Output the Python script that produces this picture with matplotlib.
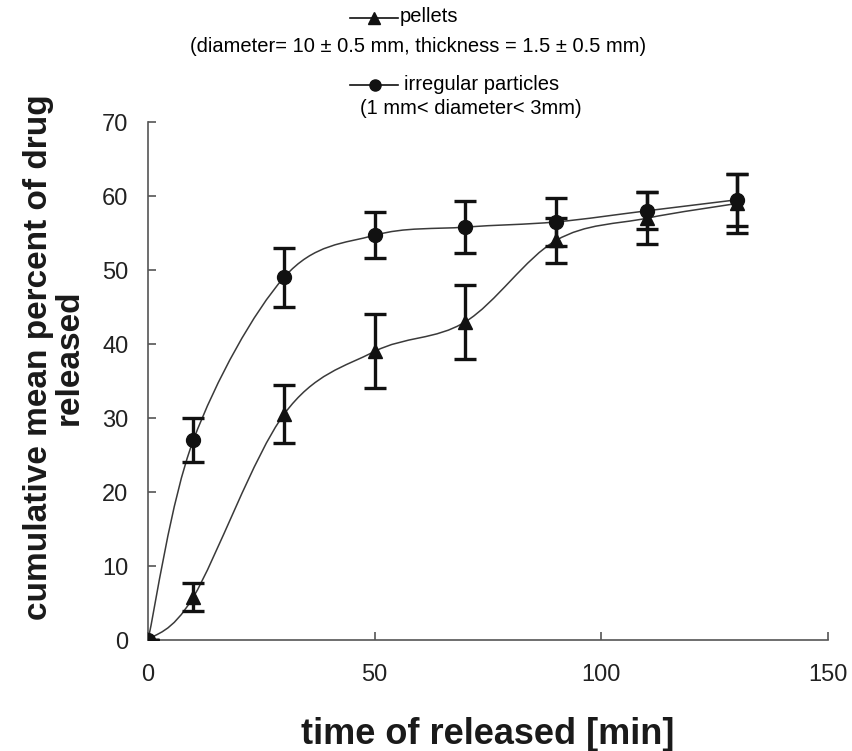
import matplotlib
matplotlib.use('Agg')
import matplotlib.pyplot as plt
from matplotlib.path import Path
from matplotlib.patches import PathPatch
from matplotlib.lines import Line2D

plt.rcParams['font.family'] = ['Liberation Sans', 'DejaVu Sans']

# time points [min]
time = [0, 10, 30, 50, 70, 90, 110, 130]

# pellets (triangles)
pellets = [0, 5.8, 30.5, 39.0, 43.0, 54.0, 57.0, 59.0]
pellets_err = [0, 1.9, 3.9, 5.0, 5.0, 3.0, 3.5, 4.0]

# irregular particles (circles)
particles = [0, 27.0, 49.0, 54.7, 55.8, 56.5, 58.0, 59.5]
particles_err = [0, 3.0, 4.0, 3.1, 3.5, 3.2, 2.5, 3.5]

x_ticks = [0, 50, 100, 150]
y_ticks = [0, 10, 20, 30, 40, 50, 60, 70]


def smooth_path(xs, ys):
    # Excel-style smoothed line: cubic Bezier through the points
    pts = list(zip(xs, ys))
    n = len(pts)
    verts = [pts[0]]
    codes = [Path.MOVETO]
    for i in range(n - 1):
        p0 = pts[i - 1] if i > 0 else pts[i]
        p1 = pts[i]
        p2 = pts[i + 1]
        p3 = pts[i + 2] if i + 2 < n else pts[i + 1]
        c1 = (p1[0] + (p2[0] - p0[0]) / 6, p1[1] + (p2[1] - p0[1]) / 6)
        c2 = (p2[0] - (p3[0] - p1[0]) / 6, p2[1] - (p3[1] - p1[1]) / 6)
        verts += [c1, c2, p2]
        codes += [Path.CURVE4] * 3
    return Path(verts, codes)


fig = plt.figure(figsize=(8.53, 7.51), dpi=100)
ax = fig.add_axes([0.1735, 0.1478, 0.7972, 0.6897])

for ys, errs, mk, ms in [(pellets, pellets_err, '^', 9.5), (particles, particles_err, 'o', 10)]:
    ax.add_patch(PathPatch(smooth_path(time, ys), facecolor='none',
                           edgecolor='#3a3a3a', lw=1.1, zorder=2))
    ax.errorbar(time, ys, yerr=errs, fmt=mk, color='#111111', ms=ms,
                ecolor='#111111', elinewidth=2.4, capsize=8, capthick=2.4, zorder=3)

ax.set_xlim(0, 150)
ax.set_ylim(0, 70)
ax.set_xticks(x_ticks)
ax.set_yticks(y_ticks)
ax.spines['top'].set_visible(False)
ax.spines['right'].set_visible(False)
for s in ['left', 'bottom']:
    ax.spines[s].set_color('#555555')
    ax.spines[s].set_linewidth(1.2)
ax.tick_params(direction='in', length=6, width=1.2, color='#555555',
               labelsize=17, labelcolor='#222222')
ax.tick_params(axis='x', pad=17)
ax.tick_params(axis='y', pad=14)

ax.set_xlabel('time of released [min]', fontsize=26, fontweight='bold', color='#1a1a1a')
ax.xaxis.set_label_coords(0.5, -0.148)
ax.set_ylabel('cumulative mean percent of drug\nreleased', fontsize=24,
              fontweight='bold', linespacing=1.0, color='#1a1a1a')
ax.yaxis.set_label_coords(-0.093, 0.546)

# legend drawn at the top of the figure
W, H = 853, 751


def fx(px):
    return px / W


def fy(py):
    return 1 - py / H


fig.add_artist(Line2D([fx(350), fx(398)], [fy(18), fy(18)], color='#111111', lw=1.2))
fig.add_artist(Line2D([fx(374)], [fy(18)], color='#111111', marker='^', ms=8, lw=0))
fig.text(fx(400), fy(17), 'pellets', fontsize=14.5, va='center', ha='left')
fig.text(fx(418), fy(46), '(diameter= 10 \u00b1 0.5 mm, thickness = 1.5 \u00b1 0.5 mm)',
         fontsize=14.5, va='center', ha='center')

fig.add_artist(Line2D([fx(350), fx(398)], [fy(85), fy(85)], color='#111111', lw=1.2))
fig.add_artist(Line2D([fx(375)], [fy(85)], color='#111111', marker='o', ms=8, lw=0))
fig.text(fx(404), fy(84), 'irregular particles', fontsize=14.5, va='center', ha='left')
fig.text(fx(471), fy(109), '(1 mm< diameter< 3mm)', fontsize=14.5, va='center', ha='center')

fig.savefig('out.png', dpi=100)
